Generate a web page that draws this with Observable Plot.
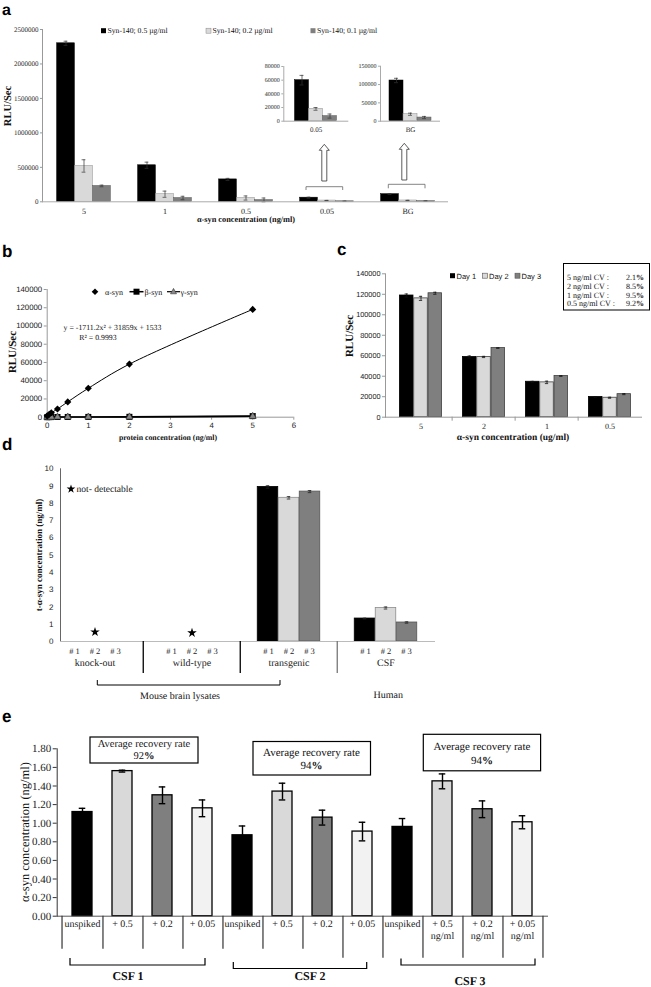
<!DOCTYPE html>
<html>
<head>
<meta charset="utf-8">
<script src="https://cdn.jsdelivr.net/npm/d3@7"></script>
<script src="https://cdn.jsdelivr.net/npm/@observablehq/plot@0.6"></script>
<style>
html,body{margin:0;padding:0;background:#fff;}
#fig{position:relative;width:651px;height:987px;overflow:hidden;background:#fff;}
svg text{text-rendering:geometricPrecision;}
</style>
</head>
<body>
<div id="fig"></div>
<script>
const SERIF = "Liberation Serif, Times New Roman, serif";
const SANS = "Liberation Sans, Arial, sans-serif";

// ================= DATA =================
// Panel a
const aConc = ["5", "1", "0.5", "0.05", "BG"];
const aSeries = ["Syn-140; 0.5 µg/ml", "Syn-140; 0.2 µg/ml", "Syn-140; 0.1 µg/ml"];
const aVal05 = [2300000, 530000, 325000, 60000, 111000];
const aErr05 = [30000, 45000, 15000, 7000, 6000];
const aVal02 = [520000, 110000, 55000, 18000, 19000];
const aErr02 = [90000, 45000, 30000, 2000, 3000];
const aVal01 = [230000, 55000, 25000, 7500, 10000];
const aErr01 = [12000, 25000, 30000, 3000, 3000];
const aYTicks = [0, 500000, 1000000, 1500000, 2000000, 2500000];
const aInsetTicks005 = [0, 20000, 40000, 60000, 80000];
const aInsetTicksBG = [0, 50000, 100000, 150000];

// Panel b
const bConc = [0, 0.05, 0.1, 0.25, 0.5, 1, 2, 5];
const bAlpha = [1500, 3100, 4800, 9000, 16800, 31700, 58200, 118200];
const bBeta = [0, 100, 150, 200, 250, 300, 400, 1200];
const bGamma = [0, 50, 100, 150, 200, 200, 300, 900];
const bSeries = ["α-syn", "β-syn", "γ-syn"];
const bXTicks = [0, 1, 2, 3, 4, 5, 6];
const bYTicks = [0, 20000, 40000, 60000, 80000, 100000, 120000, 140000];

// Panel c
const cConc = ["5", "2", "1", "0.5"];
const cDays = ["Day 1", "Day 2", "Day 3"];
const cDay1 = [118800, 58800, 34600, 19800];
const cDay1Err = [1500, 1000, 400, 300];
const cDay2 = [116000, 58800, 34000, 19000];
const cDay2Err = [2000, 600, 1200, 500];
const cDay3 = [121000, 67500, 40200, 22500];
const cDay3Err = [1000, 200, 300, 500];
const cYTicks = [0, 20000, 40000, 60000, 80000, 100000, 120000, 140000];
const cCVLabels = ["5 ng/ml CV :", "2 ng/ml CV :", "1 ng/ml CV :", "0.5 ng/ml CV :"];
const cCVValues = ["2.1", "8.5", "9.5", "9.2"];

// Panel d
const dGroups = ["knock-out", "wild-type", "transgenic", "CSF"];
const dSamples = ["# 1", "# 2", "# 3"];
const dVal1 = [null, null, 8.95, 1.33];
const dErr1 = [null, null, 0.07, 0.02];
const dVal2 = [null, null, 8.32, 1.94];
const dErr2 = [null, null, 0.07, 0.06];
const dVal3 = [null, null, 8.68, 1.10];
const dErr3 = [null, null, 0.06, 0.04];
const dNotDetectedGroups = ["knock-out", "wild-type"];
const dNotDetectedY = [0.55, 0.5];
const dYTicks = [0, 1, 2, 3, 4, 5, 6, 7, 8, 9, 10];
const dSuperGroups = ["Mouse brain lysates", "Human"];

// Panel e
const eCsf = ["CSF 1", "CSF 2", "CSF 3"];
const eSpike = ["unspiked", "+ 0.5", "+ 0.2", "+ 0.05"];
const eSpikeLabels3 = ["unspiked", "+ 0.5\nng/ml", "+ 0.2\nng/ml", "+ 0.05\nng/ml"];
const eVal1 = [1.12, 1.56, 1.30, 1.16];
const eErr1 = [0.04, 0.01, 0.09, 0.09];
const eVal2 = [0.87, 1.34, 1.06, 0.91];
const eErr2 = [0.10, 0.09, 0.08, 0.10];
const eVal3 = [0.96, 1.45, 1.15, 1.01];
const eErr3 = [0.09, 0.08, 0.09, 0.07];
const eRecovery = ["92%", "94%", "94%"];
const eYTicks = [0, 0.2, 0.4, 0.6, 0.8, 1.0, 1.2, 1.4, 1.6, 1.8];

// ================= HELPERS =================
const fig = document.getElementById("fig");
function place(el, left, top) {
  el.style.position = "absolute";
  el.style.left = left + "px";
  el.style.top = top + "px";
  fig.appendChild(el);
  return el;
}
function groupedBars(rows, cfg) {
  const marks = [];
  const n = cfg.series.length;
  const inset = (cfg.bw - cfg.barW) / 2;
  const capInset = (cfg.bw - cfg.capW) / 2;
  cfg.series.forEach((s, i) => {
    const dx = (i - (n - 1) / 2) * cfg.barW;
    const sub = rows.filter(r => r.series === s && r.value != null);
    marks.push(Plot.barY(sub, {x: "group", y: "value", fill: cfg.fills[i], stroke: cfg.strokes[i],
      strokeWidth: cfg.barStrokeWidth, insetLeft: inset, insetRight: inset, dx}));
    const we = sub.filter(r => r.err > 0);
    const es = {stroke: cfg.errColor, strokeWidth: cfg.errWidth};
    marks.push(Plot.ruleX(we, {x: "group", y1: r => Math.max(0, r.value - r.err), y2: r => r.value + r.err, dx, ...es}));
    marks.push(Plot.tickY(we, {x: "group", y: r => r.value + r.err, dx, insetLeft: capInset, insetRight: capInset, ...es}));
    marks.push(Plot.tickY(we, {x: "group", y: r => Math.max(0, r.value - r.err), dx, insetLeft: capInset, insetRight: capInset, ...es}));
  });
  return marks;
}
const baseStyle = (font) => ({fontFamily: font, color: "#222", background: "transparent", overflow: "visible"});

// ================= PANEL A =================
const aRows = aConc.flatMap((g, j) => [
  {group: g, series: aSeries[0], value: aVal05[j], err: aErr05[j]},
  {group: g, series: aSeries[1], value: aVal02[j], err: aErr02[j]},
  {group: g, series: aSeries[2], value: aVal01[j], err: aErr01[j]}
]);
const aCfg = {series: aSeries, fills: ["#000", "#d9d9d9", "#7f7f7f"], strokes: ["#000", "#8c8c8c", "#595959"],
  barStrokeWidth: 0.5, errColor: "#333", errWidth: 0.7};

place(Plot.plot({
  width: 460, height: 225, marginTop: 29, marginBottom: 23.7, marginLeft: 42, marginRight: 12,
  style: baseStyle(SERIF),
  x: {type: "band", domain: aConc, padding: 0},
  y: {domain: [0, 2500000]},
  marks: [
    Plot.frame({anchor: "left", stroke: "#999"}),
    Plot.axisY({ticks: aYTicks, tickFormat: d3.format("d"), tickSize: 2, tickPadding: 2, fontSize: 7, label: null, stroke: "#999"}),
    Plot.axisX({tickSize: 0, tickPadding: 7, fontSize: 8, label: null}),
    ...groupedBars(aRows, {...aCfg, bw: 406 / 5, barW: 18, capW: 4}),
    Plot.ruleY([0], {stroke: "#aaa"})
  ]
}), 0, 0);

// inset 0.05
place(Plot.plot({
  width: 95, height: 85, marginTop: 11, marginBottom: 19.3, marginLeft: 23.3, marginRight: 6.7,
  style: baseStyle(SERIF),
  x: {type: "band", domain: ["0.05"], padding: 0},
  y: {domain: [0, 80000]},
  marks: [
    Plot.frame({anchor: "left", stroke: "#aaa"}),
    Plot.axisY({ticks: aInsetTicks005, tickFormat: d3.format("d"), tickSize: 2, tickPadding: 2, fontSize: 6, label: null, stroke: "#aaa"}),
    Plot.axisX({tickSize: 0, tickPadding: 6, fontSize: 7, label: null}),
    ...groupedBars(aRows.filter(r => r.group === "0.05"), {...aCfg, bw: 65, barW: 14, capW: 4}),
    Plot.ruleY([0], {stroke: "#aaa"})
  ]
}), 260, 55);

// inset BG
place(Plot.plot({
  width: 100, height: 85, marginTop: 10.7, marginBottom: 19.3, marginLeft: 30, marginRight: 10,
  style: baseStyle(SERIF),
  x: {type: "band", domain: ["BG"], padding: 0},
  y: {domain: [0, 150000]},
  marks: [
    Plot.frame({anchor: "left", stroke: "#aaa"}),
    Plot.axisY({ticks: aInsetTicksBG, tickFormat: d3.format("d"), tickSize: 2, tickPadding: 2, fontSize: 6, label: null, stroke: "#aaa"}),
    Plot.axisX({tickSize: 0, tickPadding: 6, fontSize: 7, label: null}),
    ...groupedBars(aRows.filter(r => r.group === "BG"), {...aCfg, bw: 60, barW: 14, capW: 4}),
    Plot.ruleY([0], {stroke: "#aaa"})
  ]
}), 350, 55);

// ================= PANEL B =================
const bRows = bConc.map((x, i) => ({x, alpha: bAlpha[i], beta: bBeta[i], gamma: bGamma[i]}));
place(Plot.plot({
  width: 300, height: 160, marginTop: 9, marginBottom: 23.3, marginLeft: 46.7, marginRight: 6.7,
  style: baseStyle(SANS),
  x: {domain: [0, 6]},
  y: {domain: [0, 140000]},
  marks: [
    Plot.frame({anchor: "left", stroke: "#999"}),
    Plot.ruleY([0], {stroke: "#999"}),
    Plot.axisY({ticks: bYTicks, tickFormat: d3.format("d"), tickSize: 3, tickPadding: 2, fontSize: 7.8, label: null, stroke: "#999"}),
    Plot.axisX({ticks: bXTicks, tickFormat: d3.format("d"), tickSize: 3, tickPadding: 2, fontSize: 7.8, label: null, stroke: "#999"}),
    Plot.line(bRows, {x: "x", y: "beta", stroke: "#000", strokeWidth: 1.6}),
    Plot.line(bRows, {x: "x", y: "gamma", stroke: "#000", strokeWidth: 1.2}),
    Plot.dot(bRows, {x: "x", y: "beta", symbol: "square", r: 3.4, fill: "#000"}),
    Plot.dot(bRows, {x: "x", y: "gamma", symbol: "triangle", r: 2.6, fill: "#888", stroke: "#333", strokeWidth: 0.6}),
    Plot.line(bRows, {x: "x", y: "alpha", stroke: "#000", strokeWidth: 1, curve: "catmull-rom"}),
    Plot.dot(bRows, {x: "x", y: "alpha", symbol: "diamond2", r: 3.2, fill: "#000"})
  ]
}), 0, 280);

// ================= PANEL C =================
const cRows = cConc.flatMap((g, j) => [
  {group: g, series: cDays[0], value: cDay1[j], err: cDay1Err[j]},
  {group: g, series: cDays[1], value: cDay2[j], err: cDay2Err[j]},
  {group: g, series: cDays[2], value: cDay3[j], err: cDay3Err[j]}
]);
const cBw = 255 / 4;
place(Plot.plot({
  width: 311, height: 180, marginTop: 13.3, marginBottom: 23.3, marginLeft: 45, marginRight: 9,
  style: baseStyle(SANS),
  x: {type: "band", domain: cConc, range: [47, 302], padding: 0},
  y: {domain: [0, 140000]},
  marks: [
    Plot.frame({anchor: "left", stroke: "#999"}),
    Plot.axisY({ticks: cYTicks, tickFormat: d3.format("d"), tickSize: 3, tickPadding: 2, fontSize: 7.3, label: null, stroke: "#999"}),
    Plot.axisX({tickSize: 0, tickPadding: 6, fontSize: 8, fontFamily: SERIF, label: null}),
    ...groupedBars(cRows, {series: cDays, fills: ["#000", "#d9d9d9", "#7f7f7f"], strokes: ["#000", "#404040", "#404040"],
      barStrokeWidth: 0.8, errColor: "#111", errWidth: 0.8, bw: cBw, barW: 14.3, capW: 4}),
    Plot.ruleY([0], {stroke: "#999"}),
    Plot.ruleX(cConc.slice(1), {x: d => d, dx: -cBw / 2, y1: () => 0, y2: () => 0, insetBottom: -4, stroke: "#999"})
  ]
}), 340, 260);

// ================= PANEL D =================
const dVals = [dVal1, dVal2, dVal3], dErrs = [dErr1, dErr2, dErr3];
const dRows = dGroups.flatMap((g, j) => dSamples.map((s, i) => ({group: g, series: s, value: dVals[i][j], err: dErrs[i][j]})));
const dStars = dNotDetectedGroups.map((g, i) => ({group: g, y: dNotDetectedY[i]}));
const dBw = 390 / 4;
place(Plot.plot({
  width: 445, height: 235, marginTop: 13.3, marginBottom: 49, marginLeft: 60, marginRight: 10,
  style: baseStyle(SERIF),
  x: {type: "band", domain: dGroups, range: [45, 435], padding: 0, axis: null},
  y: {domain: [0, 10]},
  marks: [
    Plot.frame({anchor: "left", stroke: "#666"}),
    Plot.axisY({ticks: dYTicks, tickSize: 0, tickPadding: 7, fontSize: 8, fontFamily: SANS, label: null}),
    ...groupedBars(dRows, {series: dSamples, fills: ["#000", "#d9d9d9", "#7f7f7f"], strokes: ["#000", "#8c8c8c", "#555"],
      barStrokeWidth: 0.8, errColor: "#222", errWidth: 0.8, bw: dBw, barW: 21, capW: 4}),
    Plot.ruleY([0], {stroke: "#bbb"}),
    Plot.dot(dStars, {x: "group", y: "y", symbol: "star", r: 3, fill: "#000"}),
    ...dSamples.map((s, i) => Plot.text(dRows.filter(r => r.series === s), {x: "group", y: () => 0, text: "series", dx: (i - 1) * 20.5, dy: 9.5, fontSize: 8.5})),
    Plot.text(dGroups, {x: d => d, y: () => 0, text: d => d, dy: 21.5, fontSize: 10}),
    Plot.ruleX(dGroups.slice(1, 3), {x: d => d, dx: -dBw / 2, y1: () => 0, y2: () => 0, insetBottom: -32, stroke: "#000", strokeWidth: 1.3}),
    Plot.ruleX(dGroups.slice(3), {x: d => d, dx: -dBw / 2, y1: () => 0, y2: () => 0, insetBottom: -32, stroke: "#777", strokeWidth: 1.3})
  ]
}), 0, 455);

// ================= PANEL E =================
const eVals = [eVal1, eVal2, eVal3], eErrs = [eErr1, eErr2, eErr3];
const eRows = eCsf.flatMap((c, ci) => eSpike.map((s, si) => ({
  id: c + "|" + s, csf: c, spike: s, value: eVals[ci][si], err: eErrs[ci][si],
  label: ci === 2 ? eSpikeLabels3[si] : s, idx: ci * 4 + si
})));
const eFills = ["#000", "#d9d9d9", "#7f7f7f", "#f2f2f2"];
const eStep = (548 - 56.7) / 12;
const eBand = eStep * 0.5;
const eCap = (eBand - 7) / 2;
place(Plot.plot({
  width: 560, height: 252, marginTop: 13.3, marginBottom: 71.3, marginLeft: 56.7, marginRight: 12,
  style: baseStyle(SERIF),
  x: {type: "band", domain: eRows.map(d => d.id), paddingInner: 0.5, paddingOuter: 0.25, axis: null},
  y: {domain: [0, 1.8]},
  marks: [
    Plot.frame({anchor: "left", stroke: "#333"}),
    Plot.axisY({ticks: eYTicks, tickFormat: d3.format(".2f"), tickSize: 4, tickPadding: 2, fontSize: 11, label: null, stroke: "#333"}),
    ...eSpike.map((s, si) => Plot.barY(eRows.filter(r => r.spike === s), {x: "id", y: "value", fill: eFills[si], stroke: "#000", strokeWidth: 1.3})),
    Plot.ruleX(eRows, {x: "id", y1: r => r.value - r.err, y2: r => r.value + r.err, stroke: "#000", strokeWidth: 1.4}),
    Plot.tickY(eRows, {x: "id", y: r => r.value + r.err, insetLeft: eCap, insetRight: eCap, stroke: "#000", strokeWidth: 1.4}),
    Plot.tickY(eRows, {x: "id", y: r => r.value - r.err, insetLeft: eCap, insetRight: eCap, stroke: "#000", strokeWidth: 1.4}),
    Plot.ruleY([0], {stroke: "#555", strokeWidth: 1}),
    Plot.ruleX(eRows.slice(0, 1), {x: "id", dx: -eStep / 2, y1: () => 0, y2: () => 0, insetBottom: -33, stroke: "#333", strokeWidth: 1.2}),
    Plot.ruleX(eRows.filter(r => r.idx < 6), {x: "id", dx: eStep / 2, y1: () => 0, y2: () => 0, insetBottom: -33, stroke: "#333", strokeWidth: 1.2}),
    Plot.ruleX(eRows.filter(r => r.idx >= 6), {x: "id", dx: eStep / 2, y1: () => 0, y2: () => 0, insetBottom: -42, stroke: "#333", strokeWidth: 1.2}),
    Plot.text(eRows, {x: "id", y: () => 0, text: "label", dy: 3, lineAnchor: "top", fontSize: 10, lineHeight: 1.15})
  ]
}), 0, 735);

// ================= ANNOTATION OVERLAY =================
const star = d3.symbol(d3.symbolStar, 24)();
const arrow = (cx, top, bottom) => `<path d="M${cx},${top} L${cx + 5},${top + 6} L${cx + 2.5},${top + 6} L${cx + 2.5},${bottom} L${cx - 2.5},${bottom} L${cx - 2.5},${top + 6} L${cx - 5},${top + 6} Z" fill="#fff" stroke="#333" stroke-width="0.8"/>`;
const bracketDown = (x1, x2, yTop, yEnd, st, sw) => `<path d="M${x1},${yEnd} V${yTop} H${x2} V${yEnd}" fill="none" stroke="${st}" stroke-width="${sw}"/>`;
const bracketUp = (x1, x2, yEnd, yBot, st, sw) => `<path d="M${x1},${yEnd} V${yBot} H${x2} V${yEnd}" fill="none" stroke="${st}" stroke-width="${sw}"/>`;
const pct = (v) => `${v.replace("%", "")}<tspan font-weight="bold">%</tspan>`;

const ov = `
<svg xmlns="http://www.w3.org/2000/svg" width="651" height="987" style="position:absolute;left:0;top:0;pointer-events:none" font-family="${SERIF}" fill="#111">
  <g font-family="${SANS}" font-weight="bold" font-size="17" fill="#000">
    <text x="2" y="15" font-size="16">a</text>
    <text x="2" y="256.5">b</text>
    <text x="337" y="255">c</text>
    <text x="2" y="450">d</text>
    <text x="2" y="721.7">e</text>
  </g>

  <!-- panel a legend -->
  <rect x="101" y="28.2" width="5" height="5" fill="#000"/>
  <text x="107.5" y="33.3" font-size="7.7">${aSeries[0]}</text>
  <rect x="206" y="28.2" width="5" height="5" fill="#d9d9d9" stroke="#888" stroke-width="0.5"/>
  <text x="212.5" y="33.3" font-size="7.7">${aSeries[1]}</text>
  <rect x="310.5" y="28.2" width="5" height="5" fill="#7f7f7f"/>
  <text x="317" y="33.3" font-size="7.7">${aSeries[2]}</text>
  ${arrow(324.3, 144.3, 181)}
  ${arrow(404.3, 143.3, 180)}
  ${bracketDown(306, 342.7, 186.7, 190, "#666", 0.8)}
  ${bracketDown(388.3, 425, 184.3, 188.3, "#666", 0.8)}
  <text transform="translate(8.5,106) rotate(-90)" text-anchor="middle" dominant-baseline="central" font-weight="bold" font-size="10.5">RLU/Sec</text>
  <text x="246" y="222" text-anchor="middle" font-weight="bold" font-size="8.3">α-syn concentration (ng/ml)</text>

  <!-- panel b -->
  <path d="M95,288.4 L98.3,291.7 L95,295 L91.7,291.7 Z" fill="#000"/>
  <text x="105" y="294.5" font-size="8">${bSeries[0]}</text>
  <line x1="129.5" x2="143.5" y1="291.7" y2="291.7" stroke="#000" stroke-width="1.5"/>
  <rect x="133.5" y="288.7" width="6" height="6" fill="#000"/>
  <text x="144.5" y="294.5" font-size="8">${bSeries[1]}</text>
  <line x1="167" x2="180" y1="291.7" y2="291.7" stroke="#000" stroke-width="1.2"/>
  <path d="M173.5,288.4 L176.5,293.8 L170.5,293.8 Z" fill="#888" stroke="#333" stroke-width="0.6"/>
  <text x="180.5" y="294.5" font-size="8">${bSeries[2]}</text>
  <text x="112.5" y="329.5" text-anchor="middle" font-size="7.8">y = -1711.2x² + 31859x + 1533</text>
  <text x="98" y="339.5" text-anchor="middle" font-size="7.8">R² = 0.9993</text>
  <text transform="translate(12.5,352) rotate(-90)" text-anchor="middle" dominant-baseline="central" font-weight="bold" font-size="11">RLU/Sec</text>
  <text x="168" y="439.5" text-anchor="middle" font-weight="bold" font-size="7.8">protein concentration (ng/ml)</text>

  <!-- panel c -->
  <g font-family="${SANS}" font-size="7.5">
    <rect x="450" y="273.2" width="5" height="5" fill="#000"/>
    <text x="456.5" y="278.6">${cDays[0]}</text>
    <rect x="482.5" y="273.2" width="5" height="5" fill="#d9d9d9" stroke="#555" stroke-width="0.6"/>
    <text x="489" y="278.6">${cDays[1]}</text>
    <rect x="515" y="273.2" width="5" height="5" fill="#7f7f7f" stroke="#555" stroke-width="0.6"/>
    <text x="521.5" y="278.6">${cDays[2]}</text>
  </g>
  <rect x="563.5" y="263.5" width="86" height="46.5" fill="#fff" stroke="#000" stroke-width="1"/>
  <g font-size="8">
    ${cCVLabels.map((l, i) => `<text x="567" y="${280 + i * 8.8}">${l}</text><text x="644" y="${280 + i * 8.8}" text-anchor="end">${cCVValues[i]}<tspan font-weight="bold">%</tspan></text>`).join("")}
  </g>
  <text transform="translate(350.3,336) rotate(-90)" text-anchor="middle" dominant-baseline="central" font-weight="bold" font-size="11">RLU/Sec</text>
  <text x="513" y="440" text-anchor="middle" font-weight="bold" font-size="9.5">α-syn concentration (ug/ml)</text>

  <!-- panel d -->
  <path d="${star}" transform="translate(71,489)" fill="#000"/>
  <text x="76.5" y="492.2" font-size="9.5">not- detectable</text>
  <text transform="translate(38.5,555) rotate(-90)" text-anchor="middle" dominant-baseline="central" font-weight="bold" font-size="9">t-α-syn concentration (ng/ml)</text>
  ${bracketUp(97.3, 280, 680, 685, "#000", 1)}
  <text x="180" y="698.5" text-anchor="middle" font-size="10">${dSuperGroups[0]}</text>
  <text x="388.3" y="697.5" text-anchor="middle" font-size="10">${dSuperGroups[1]}</text>

  <!-- panel e -->
  <text transform="translate(25,832) rotate(-90)" text-anchor="middle" dominant-baseline="central" font-size="12.5">α-syn concentration (ng/ml)</text>
  <rect x="90" y="737" width="108" height="26" fill="#fff" stroke="#000" stroke-width="1.2"/>
  <text x="144" y="747" text-anchor="middle" font-size="10.5">Average recovery rate</text>
  <text x="144" y="759" text-anchor="middle" font-size="10.5">${pct(eRecovery[0])}</text>
  <rect x="253" y="741.5" width="117.5" height="33.5" fill="#fff" stroke="#000" stroke-width="1.2"/>
  <text x="311.5" y="755.5" text-anchor="middle" font-size="11">Average recovery rate</text>
  <text x="311.5" y="768.5" text-anchor="middle" font-size="11">${pct(eRecovery[1])}</text>
  <rect x="423.3" y="734.3" width="117.3" height="36.5" fill="#fff" stroke="#000" stroke-width="1.2"/>
  <text x="482" y="750" text-anchor="middle" font-size="11">Average recovery rate</text>
  <text x="482" y="763.5" text-anchor="middle" font-size="11">${pct(eRecovery[2])}</text>
  ${bracketUp(70, 205, 958, 965, "#000", 1.2)}
  ${bracketUp(233.3, 366.7, 962, 968.5, "#000", 1.2)}
  ${bracketUp(401, 535, 958.5, 965, "#000", 1.2)}
  <g font-weight="bold" font-size="12" text-anchor="middle">
    <text x="128" y="980">${eCsf[0]}</text>
    <text x="310" y="980">${eCsf[1]}</text>
    <text x="470" y="985">${eCsf[2]}</text>
  </g>
</svg>`;
fig.insertAdjacentHTML("beforeend", ov);
</script>
</body>
</html>
